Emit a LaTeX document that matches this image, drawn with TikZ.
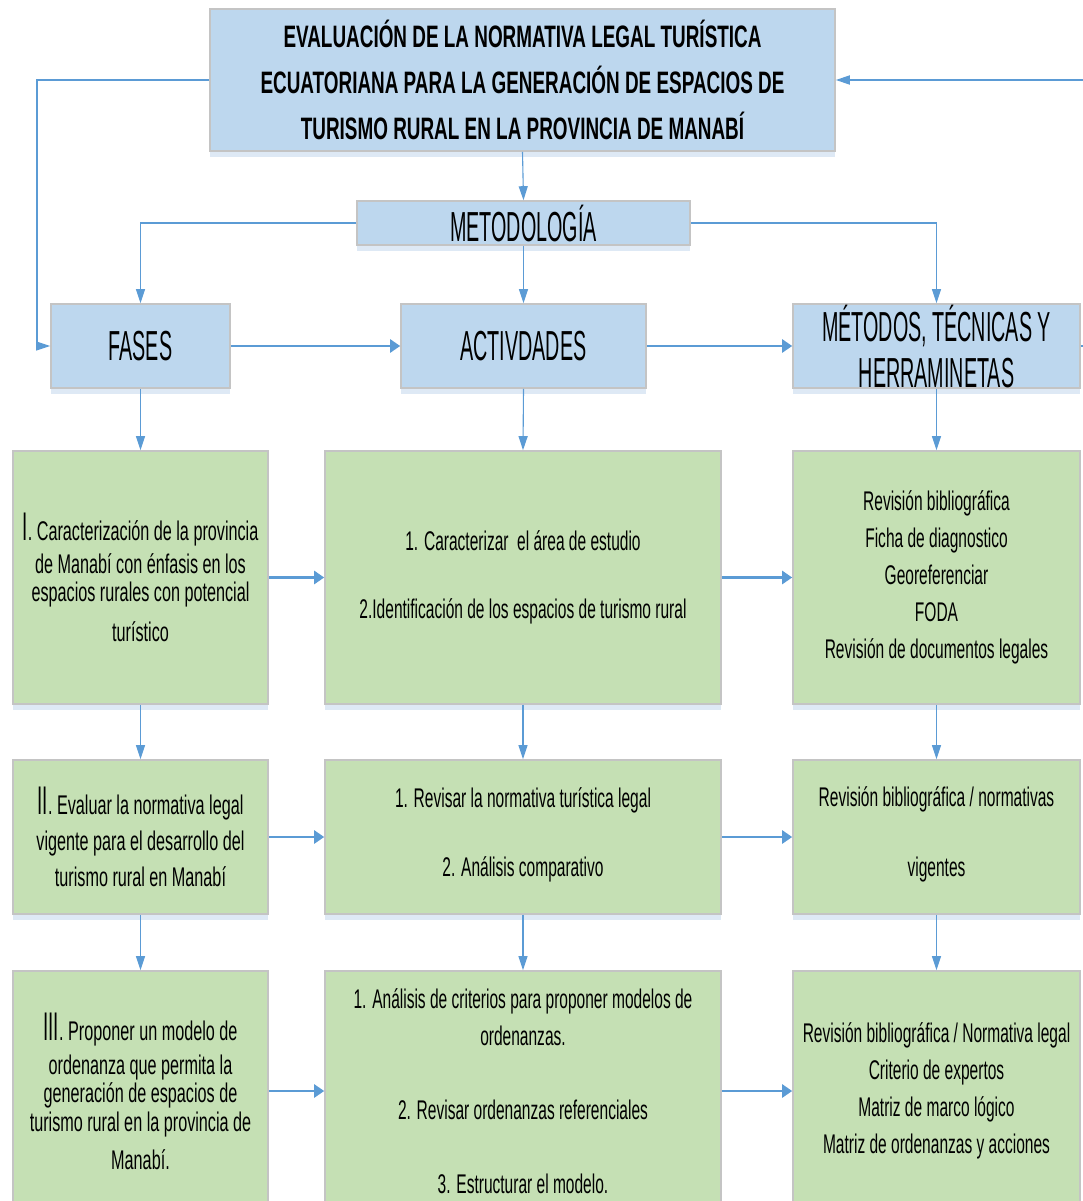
\documentclass[tikz,border=0pt]{standalone}
\usepackage{fontspec}
\setmainfont{Liberation Sans}
\newfontfamily\nar[FakeStretch=0.575]{Liberation Sans}
\newfontfamily\narl[FakeStretch=0.6]{Liberation Sans}
\newfontfamily\titlef[FakeStretch=0.61]{Liberation Sans}
\newfontfamily\hdr[FakeStretch=0.47]{Liberation Sans}
\usetikzlibrary{arrows.meta,shadows}
\definecolor{boxblue}{HTML}{BDD7EE}
\definecolor{boxgreen}{HTML}{C5E0B4}
\definecolor{edgegray}{HTML}{C4C4C4}
\definecolor{arrowblue}{HTML}{5B9BD5}
\definecolor{shadowblue}{HTML}{D6E3F3}
\tikzset{
  base/.style={draw=edgegray, line width=1.6pt, inner sep=0pt, align=center,
    drop shadow={shadow xshift=0pt, shadow yshift=-6pt, fill=shadowblue, opacity=0.8}},
  bluebox/.style={base, fill=boxblue},
  greenbox/.style={base, fill=boxgreen},
  thin/.style={draw=arrowblue, line width=1.1pt, -{Triangle[length=14pt,width=9pt]}},
  thick/.style={draw=arrowblue, line width=2.4pt, -{Triangle[length=10pt,width=13pt]}},
  loop/.style={draw=arrowblue, line width=1.8pt},
  gtext/.style={font=\nar\fontsize{27}{37}\selectfont},
  htext/.style={font=\hdr\fontsize{42}{46}\selectfont}
}
\newcommand{\bigrom}[1]{{\hdr\fontsize{40}{31}\selectfont #1}}
\begin{document}
\begin{tikzpicture}[x=1pt,y=-1pt]
\useasboundingbox (0,0) rectangle (1083,1201);
\begin{scope}
\clip (0,0) rectangle (1083,1201);
% header boxes
\node[bluebox, minimum width=625pt, minimum height=142pt,
  font=\titlef\bfseries\fontsize{31}{46}\selectfont] (title) at (522.5,80)
  {EVALUACIÓN DE LA NORMATIVA LEGAL TURÍSTICA\\ECUATORIANA PARA LA GENERACIÓN DE ESPACIOS DE\\TURISMO RURAL EN LA PROVINCIA DE MANABÍ};
\node[bluebox, htext, minimum width=333pt, minimum height=44pt] (met) at (523.5,223) {METODOLOGÍA};
\node[bluebox, htext, minimum width=179pt, minimum height=84pt] (fases) at (140.5,346) {FASES};
\node[bluebox, htext, minimum width=245pt, minimum height=84pt] (act) at (523.5,346) {ACTIVDADES};
\node[bluebox, htext, minimum width=287pt, minimum height=84pt] (mth) at (936.5,346) {MÉTODOS, TÉCNICAS Y\\HERRAMINETAS};
% row 1
\node[greenbox, minimum width=255pt, minimum height=253pt,
  font=\narl\fontsize{27}{31}\selectfont] (g1l) at (140.5,577.5)
  {\bigrom{I}. Caracterización de la provincia\\[2pt]de Manabí con énfasis en los\\[-3pt]espacios rurales con potencial\\[9pt]turístico};
\node[greenbox, minimum width=396pt, minimum height=253pt,
  font=\nar\fontsize{27}{34}\selectfont] (g1m) at (523,577.5)
  {1. Caracterizar\ \ el área de estudio\\[34pt]2.Identificación de los espacios de turismo rural};
\node[greenbox, gtext, minimum width=287pt, minimum height=253pt] (g1r) at (936.5,577.5)
  {Revisión bibliográfica\\Ficha de diagnostico\\Georeferenciar\\FODA\\Revisión de documentos legales};
% row 2
\node[greenbox, minimum width=255pt, minimum height=154pt,
  font=\narl\fontsize{27}{36}\selectfont] (g2l) at (140.5,837)
  {\bigrom{II}. Evaluar la normativa legal\\vigente para el desarrollo del\\turismo rural en Manabí};
\node[greenbox, minimum width=396pt, minimum height=154pt,
  font=\nar\fontsize{27}{34}\selectfont] (g2m) at (523,837)
  {1. Revisar la normativa turística legal\\[35pt]2. Análisis comparativo\\[-24pt]};
\node[greenbox, minimum width=287pt, minimum height=154pt,
  font=\nar\fontsize{27}{34}\selectfont] (g2r) at (936.5,837)
  {Revisión bibliográfica / normativas\\[36pt]vigentes\\[-24pt]};
% row 3
\node[greenbox, minimum width=255pt, minimum height=240pt,
  font=\narl\fontsize{27}{31}\selectfont] (g3l) at (140.5,1091)
  {\bigrom{III}. Proponer un modelo de\\[3pt]ordenanza que permita la\\[-3pt]generación de espacios de\\[-2pt]turismo rural en la provincia de\\[7pt]Manabí.};
\node[greenbox, gtext, minimum width=396pt, minimum height=240pt] (g3m) at (523,1091)
  {1. Análisis de criterios para proponer modelos de\\ordenanzas.\\[37pt]2. Revisar ordenanzas referenciales\\[37pt]3. Estructurar el modelo.};
\node[greenbox, gtext, minimum width=287pt, minimum height=240pt] (g3r) at (936.5,1091)
  {Revisión bibliográfica / Normativa legal\\Criterio de expertos\\Matriz de marco lógico\\Matriz de ordenanzas y acciones};
\end{scope}
% connectors
\coordinate (lc) at (37,80);
\coordinate (re1) at (1083,346);
\coordinate (re2) at (1083,80);
\draw[thin] (title.south) -- (met.north);
\draw[loop] (title.west) -- (lc) -- (lc |- fases.west);
\draw[thin] (lc |- fases.west) -- (fases.west);
\draw[thin, line width=1.8pt] (re2) -- (title.east);
\draw[loop] (mth.east) -- (re1);
\draw[loop] (met.west) -| (fases.north |- 260,260);
\draw[thin] (fases.north |- 260,260) -- (fases.north);
\draw[loop] (met.east) -| (mth.north |- 260,260);
\draw[thin] (mth.north |- 260,260) -- (mth.north);
\draw[thin] (met.south) -- (act.north);
\draw[thick] (fases.east) -- (act.west);
\draw[thick] (act.east) -- (mth.west);
\draw[thin] (fases.south) -- (g1l.north);
\draw[thin] (act.south) -- (g1m.north);
\draw[thin] (mth.south) -- (g1r.north);
\draw[thin] (g1l.south) -- (g2l.north);
\draw[thin] (g1m.south) -- (g2m.north);
\draw[thin] (g1r.south) -- (g2r.north);
\draw[thin] (g2l.south) -- (g3l.north);
\draw[thin] (g2m.south) -- (g3m.north);
\draw[thin] (g2r.south) -- (g3r.north);
\draw[thick] (g1l.east) -- (g1m.west);
\draw[thick] (g1m.east) -- (g1r.west);
\draw[thick] (g2l.east) -- (g2m.west);
\draw[thick] (g2m.east) -- (g2r.west);
\draw[thick] (g3l.east) -- (g3m.west);
\draw[thick] (g3m.east) -- (g3r.west);
\end{tikzpicture}
\end{document}
